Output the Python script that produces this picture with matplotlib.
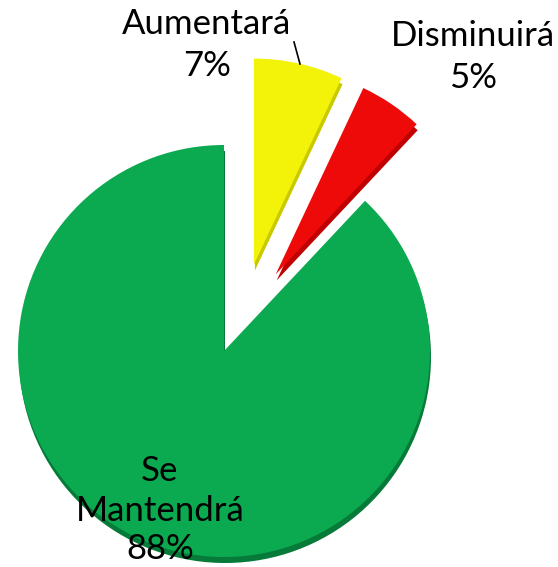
import matplotlib
matplotlib.use("Agg")
import matplotlib.pyplot as plt
from matplotlib.transforms import Affine2D

labels = ["Aumentará", "Disminuirá", "Se\nMantendrá"]
values = [7, 5, 88]
pct_labels = ["7%", "5%", "88%"]
colors = ["#F3F30A", "#EF0A0A", "#0BA950"]
side_colors = ["#C9C900", "#C00000", "#067A38"]
explode_frac = [0.42, 0.42, 0.0]
# small perspective nudges (pixels) for the exploded slices
nudges = [(11, 2), (3, 5), (0, 0)]

W, H = 558, 567
fig = plt.figure(figsize=(W / 100, H / 100), dpi=100)
ax = fig.add_axes([0, 0, 1, 1])

cx, cy, r = 224, 567 - 351, 206
explode = [e * r for e in explode_frac]

# side / thickness (shadow copy)
side, _ = ax.pie(values, explode=explode, colors=side_colors, startangle=90,
                 counterclock=False, center=(cx + 1, cy - 6), radius=r,
                 wedgeprops=dict(linewidth=0), frame=True)
# top face
top, _ = ax.pie(values, explode=explode, colors=colors, startangle=90,
                counterclock=False, center=(cx, cy), radius=r,
                wedgeprops=dict(linewidth=0), frame=True)
for group in (side, top):
    for w, (dx, dy) in zip(group, nudges):
        w.set_transform(Affine2D().translate(dx, dy) + ax.transData)

ax.set_xlim(0, W)
ax.set_ylim(0, H)
ax.set_aspect("equal")
ax.axis("off")

font = "Lato"
fs = 25
ax.text(207, 567 - 24, labels[0], ha="center", va="center", fontsize=fs, family=font)
ax.text(207, 567 - 66, pct_labels[0], ha="center", va="center", fontsize=fs, family=font)
ax.plot([294, 300], [567 - 42, 567 - 64], color="black", lw=1.2)
ax.text(473, 567 - 36, labels[1], ha="center", va="center", fontsize=fs, family=font)
ax.text(473, 567 - 78, pct_labels[1], ha="center", va="center", fontsize=fs, family=font)
ax.text(160, 567 - 491, labels[2], ha="center", va="center", fontsize=fs, family=font,
        linespacing=1.3)
ax.text(160, 567 - 549, pct_labels[2], ha="center", va="center", fontsize=fs, family=font)

fig.savefig("out.png", dpi=100)
